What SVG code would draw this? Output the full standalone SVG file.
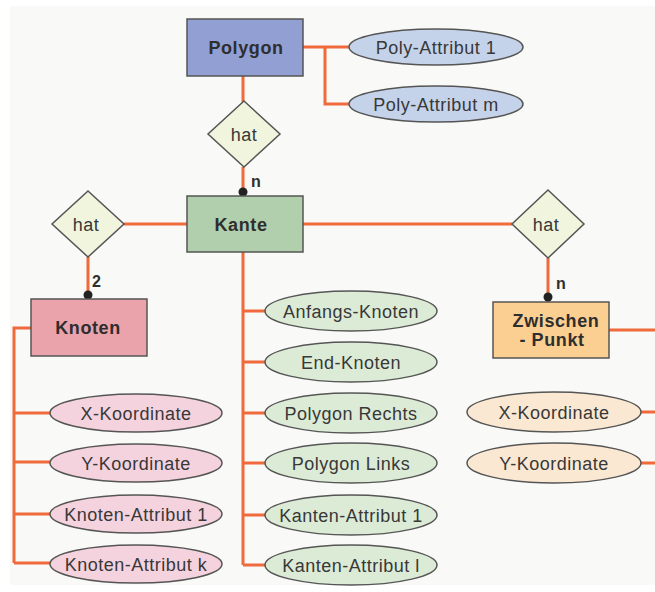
<svg xmlns="http://www.w3.org/2000/svg" width="655" height="592" viewBox="0 0 655 592">
<style>
.t{font-family:"Liberation Sans",Arial,sans-serif;font-size:18px;fill:#383838;text-anchor:middle;letter-spacing:0.5px}
.b{font-family:"Liberation Sans",Arial,sans-serif;font-size:18px;font-weight:bold;fill:#2e2e2e;text-anchor:middle;letter-spacing:0.6px}
.s{stroke:#555;stroke-width:1.5}
.c{stroke:#f06a3c;stroke-width:3;fill:none}
.dot{fill:#222}
.card{font-family:"Liberation Sans",Arial,sans-serif;font-size:16px;font-weight:bold;fill:#2e2e2e}
</style>
<rect width="655" height="592" fill="#ffffff"/>
<rect x="10" y="6" width="645" height="579" fill="#f9f9f7"/>
<g id="connectors">
<path class="c" d="M303,47 H349 M325,47 V104 H349"/>
<path class="c" d="M243,76 V102 M243,167 V196"/>
<path class="c" d="M124,224 H187 M88,257 V299"/>
<path class="c" d="M31,328 H14 V563 M14,413 H50 M14,462 H50 M14,514 H50 M14,563 H50"/>
<path class="c" d="M243,252 V565 M243,311 H265 M243,362 H265 M243,413 H265 M243,463 H265 M243,515 H265 M243,565 H265"/>
<path class="c" d="M303,224 H512 M548,258 V302"/>
<path class="c" d="M609,330 H655 M641,412 H655 M641,463 H655"/>
<circle class="dot" cx="243" cy="192" r="4.5"/>
<circle class="dot" cx="88" cy="295" r="4.5"/>
<circle class="dot" cx="548" cy="297" r="4.5"/>
<text class="card" x="251" y="187">n</text>
<text class="card" x="92" y="287">2</text>
<text class="card" x="556" y="289">n</text>
</g>
<g id="polygon">
<rect class="s" x="187" y="19" width="116" height="57" fill="#919fd3"/>
<text class="b" x="246" y="54">Polygon</text>
</g>
<g id="poly-attr-1">
<ellipse class="s" cx="436" cy="47" rx="87" ry="18" fill="#c5d3ea"/>
<text class="t" x="436" y="54">Poly-Attribut 1</text>
</g>
<g id="poly-attr-m">
<ellipse class="s" cx="436" cy="104" rx="87" ry="18" fill="#c5d3ea"/>
<text class="t" x="436" y="111">Poly-Attribut m</text>
</g>
<g id="hat-top">
<polygon class="s" points="244,101 280,134 244,167 208,134" fill="#f1f5dd"/>
<text class="t" x="244" y="141">hat</text>
</g>
<g id="kante">
<rect class="s" x="187" y="196" width="116" height="56" fill="#b1cfac"/>
<text class="b" x="241" y="231">Kante</text>
</g>
<g id="hat-left">
<polygon class="s" points="88,191 124,224 88,257 52,224" fill="#f1f5dd"/>
<text class="t" x="86" y="231">hat</text>
</g>
<g id="knoten">
<rect class="s" x="31" y="299" width="116" height="57" fill="#eba3ab"/>
<text class="b" x="88" y="334">Knoten</text>
</g>
<g id="hat-right">
<polygon class="s" points="548,190 584,224 548,258 512,224" fill="#f1f5dd"/>
<text class="t" x="546" y="231">hat</text>
</g>
<g id="zwischenpunkt">
<rect class="s" x="493" y="302" width="116" height="56" fill="#fbcf92"/>
<text class="b" x="556" y="327">Zwischen</text>
<text class="b" x="552" y="346">- Punkt</text>
</g>
<g id="knoten-x">
<ellipse class="s" cx="136" cy="413" rx="86" ry="19" fill="#f5d3de"/>
<text class="t" x="136" y="420">X-Koordinate</text>
</g>
<g id="knoten-y">
<ellipse class="s" cx="136" cy="463" rx="86" ry="19" fill="#f5d3de"/>
<text class="t" x="136" y="470">Y-Koordinate</text>
</g>
<g id="knoten-attr-1">
<ellipse class="s" cx="136" cy="514" rx="86" ry="19" fill="#f5d3de"/>
<text class="t" x="136" y="521">Knoten-Attribut 1</text>
</g>
<g id="knoten-attr-k">
<ellipse class="s" cx="136" cy="564" rx="86" ry="19" fill="#f5d3de"/>
<text class="t" x="136" y="571">Knoten-Attribut k</text>
</g>
<g id="anfangs-knoten">
<ellipse class="s" cx="351" cy="311" rx="86" ry="20" fill="#dcebd6"/>
<text class="t" x="351" y="318">Anfangs-Knoten</text>
</g>
<g id="end-knoten">
<ellipse class="s" cx="351" cy="362" rx="86" ry="20" fill="#dcebd6"/>
<text class="t" x="351" y="369">End-Knoten</text>
</g>
<g id="polygon-rechts">
<ellipse class="s" cx="351" cy="413" rx="86" ry="20" fill="#dcebd6"/>
<text class="t" x="351" y="420">Polygon Rechts</text>
</g>
<g id="polygon-links">
<ellipse class="s" cx="351" cy="463" rx="86" ry="20" fill="#dcebd6"/>
<text class="t" x="351" y="470">Polygon Links</text>
</g>
<g id="kanten-attr-1">
<ellipse class="s" cx="351" cy="515" rx="86" ry="20" fill="#dcebd6"/>
<text class="t" x="351" y="522">Kanten-Attribut 1</text>
</g>
<g id="kanten-attr-l">
<ellipse class="s" cx="351" cy="565" rx="86" ry="20" fill="#dcebd6"/>
<text class="t" x="351" y="572">Kanten-Attribut l</text>
</g>
<g id="zp-x">
<ellipse class="s" cx="554" cy="412" rx="87" ry="20" fill="#fbe8d2"/>
<text class="t" x="554" y="419">X-Koordinate</text>
</g>
<g id="zp-y">
<ellipse class="s" cx="554" cy="463" rx="87" ry="20" fill="#fbe8d2"/>
<text class="t" x="554" y="470">Y-Koordinate</text>
</g>
</svg>
